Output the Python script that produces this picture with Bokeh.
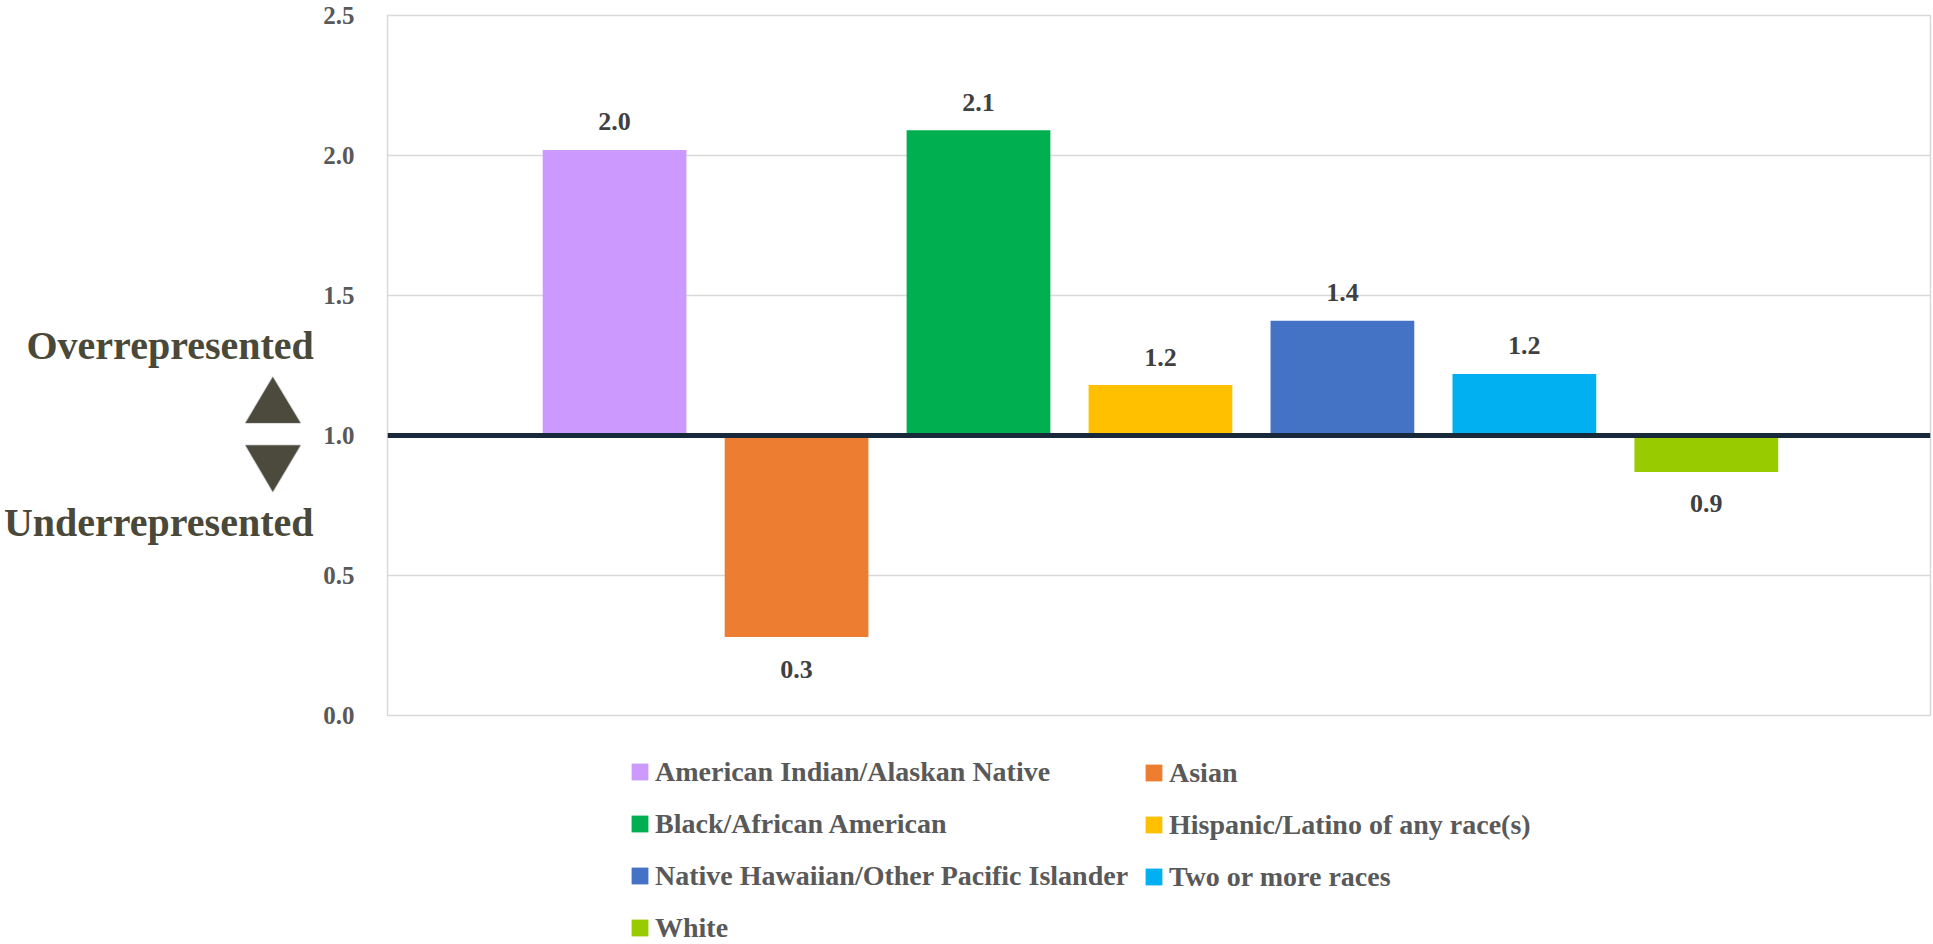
from bokeh.plotting import figure
from bokeh.layouts import row, column
from bokeh.models import (Range1d, Span, Label, PolyAnnotation, Legend, LegendItem,
                          FixedTicker, NumeralTickFormatter, ColumnDataSource)
from bokeh.core.properties import value
from bokeh.embed import file_html
from bokeh.resources import INLINE

# ---- data ----
categories = [
    "American Indian/Alaskan Native",
    "Asian",
    "Black/African American",
    "Hispanic/Latino of any race(s)",
    "Native Hawaiian/Other Pacific Islander",
    "Two or more races",
    "White",
]
ratios = [2.02, 0.28, 2.09, 1.18, 1.41, 1.22, 0.87]
colors = ["#CC99FF", "#ED7D31", "#00B050", "#FFC000", "#4472C4", "#00B0F0", "#99CC00"]
y_ticks = [0.0, 0.5, 1.0, 1.5, 2.0, 2.5]
baseline = 1.0

SERIF = "Liberation Serif"
LEFT_W = 316
TOP_H = 744


def blank_fig(w, h, y_range=None):
    f = figure(width=w, height=h, output_backend="svg", toolbar_location=None,
               x_range=Range1d(0, 1), y_range=y_range if y_range is not None else Range1d(0, 1),
               x_axis_location=None, y_axis_location=None,
               min_border=0, min_border_left=0, min_border_right=0,
               min_border_top=0, min_border_bottom=0,
               background_fill_color="white", border_fill_color="white")
    f.grid.visible = False
    f.outline_line_color = None
    return f


# ---- main chart ----
y_rng = Range1d(0, 2.5)
p = figure(width=1616, height=TOP_H, output_backend="svg", toolbar_location=None,
           x_range=Range1d(-1.248, 7.232), y_range=y_rng,
           min_border_left=71, min_border_right=2, min_border_top=15, min_border_bottom=29,
           background_fill_color="white", border_fill_color="white")

p.xaxis.visible = False
p.xgrid.visible = False
p.ygrid.grid_line_color = "#d9d9d9"
p.ygrid.grid_line_width = 1.5
p.outline_line_color = "#d9d9d9"
p.outline_line_width = 1.5

yax = p.yaxis[0]
yax.ticker = FixedTicker(ticks=y_ticks)
yax.formatter = NumeralTickFormatter(format="0.0")
yax.axis_line_color = None
yax.major_tick_line_color = None
yax.minor_tick_line_color = None
yax.major_label_standoff = 27
yax.major_label_text_font = SERIF
yax.major_label_text_font_size = "25px"
yax.major_label_text_font_style = "bold"
yax.major_label_text_color = "#595959"

for i, (v, c) in enumerate(zip(ratios, colors)):
    src = ColumnDataSource(dict(x=[i], top=[v], bottom=[baseline]))
    p.vbar(x="x", width=0.79, top="top", bottom="bottom", source=src,
           fill_color=c, line_color=None)

p.add_layout(Span(location=baseline, dimension="width", line_color="#17293a", line_width=5))

lab_src = ColumnDataSource(dict(
    x=list(range(len(ratios))),
    y=ratios,
    text=[f"{v:.1f}" for v in ratios],
    yoff=[-28 if v >= baseline else 32 for v in ratios],
))
p.text(x="x", y="y", text="text", y_offset="yoff", source=lab_src,
       text_align="center", text_baseline="middle",
       text_font=value(SERIF), text_font_style="bold", text_font_size="26px",
       text_color="#404040")

# ---- left side: over / under (shares the y scale of the chart) ----
side = blank_fig(LEFT_W, TOP_H, y_range=y_rng)
side_color = "#4a4838"
side.add_layout(Label(x=313.3, y=1.321, x_units="screen", y_units="data",
                      text="Overrepresented", text_align="right", text_baseline="alphabetic",
                      text_font=SERIF, text_font_size="40px", text_font_style="bold",
                      text_color=side_color))
side.add_layout(Label(x=313.0, y=0.691, x_units="screen", y_units="data",
                      text="Underrepresented", text_align="right", text_baseline="alphabetic",
                      text_font=SERIF, text_font_size="40px", text_font_style="bold",
                      text_color=side_color))
side.add_layout(PolyAnnotation(xs=[272.3, 245.0, 300.0], ys=[1.209, 1.045, 1.045],
                               xs_units="screen", ys_units="data",
                               fill_color="#4b4a3c", fill_alpha=1.0,
                               line_color="#6b6b6b", line_width=1.5))
side.add_layout(PolyAnnotation(xs=[245.0, 300.0, 272.3], ys=[0.965, 0.965, 0.799],
                               xs_units="screen", ys_units="data",
                               fill_color="#4b4a3c", fill_alpha=1.0,
                               line_color="#6b6b6b", line_width=1.5))

# ---- legend below ----
LEG_H = 199
leg = blank_fig(1932, LEG_H)
items = []
for cat, c in zip(categories, colors):
    # legend-only swatch renderer with zero height (draws nothing in the plot)
    r = leg.vbar(x=[0.5], width=0.1, top=[0.0], bottom=[0.0], fill_color=c, line_color=None)
    items.append(LegendItem(label=cat, renderers=[r]))


def make_legend(its, loc):
    lg = Legend(items=its, location=loc, orientation="vertical",
                glyph_width=21, glyph_height=21, label_standoff=5,
                label_height=34, spacing=18, padding=0, margin=0,
                border_line_color=None, background_fill_alpha=0,
                label_text_font=SERIF, label_text_font_size="28px",
                label_text_font_style="bold", label_text_color="#595959")
    leg.add_layout(lg, "center")


make_legend([items[0], items[2], items[4], items[6]], (629, -1.9))
make_legend([items[1], items[3], items[5]], (1143, 49.2))

layout = column(row(side, p), leg)
open("out.html", "w").write(file_html(layout, INLINE))
